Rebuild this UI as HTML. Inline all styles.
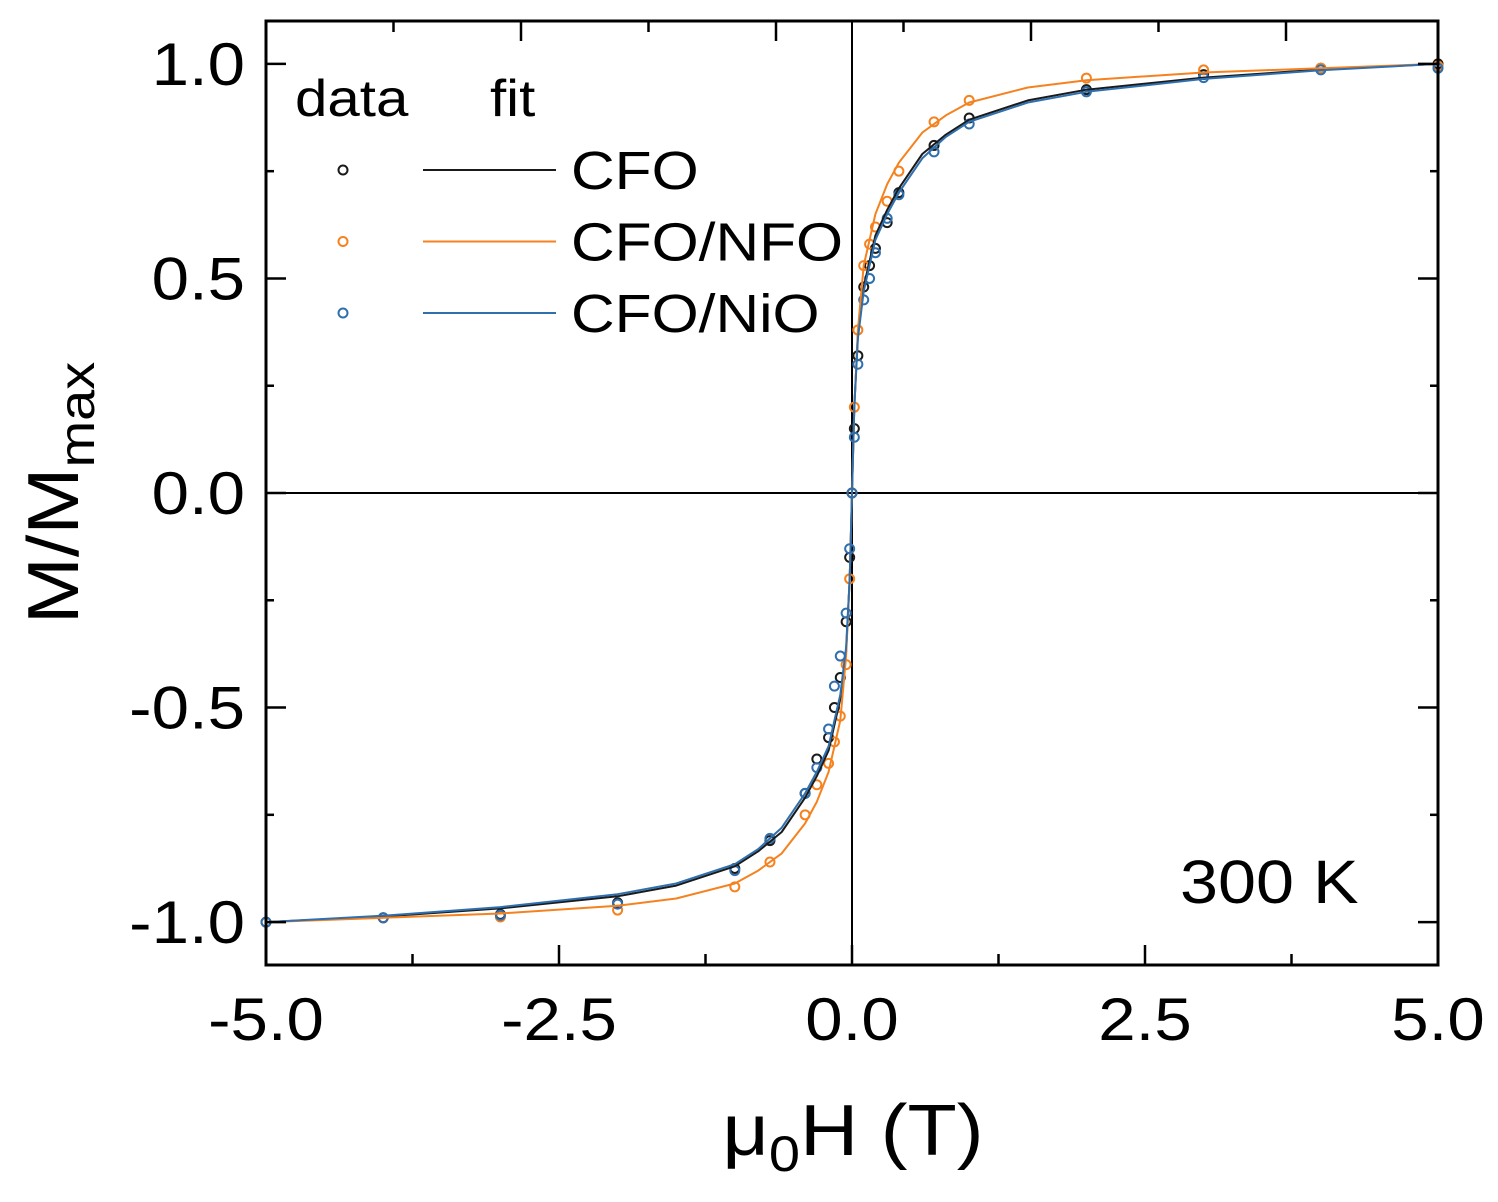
<!DOCTYPE html>
<html><head><meta charset="utf-8"><style>
html,body{margin:0;padding:0;background:#fff;}
svg{display:block;font-family:"Liberation Sans",Arial,sans-serif;}
</style></head><body>
<svg id="chart" width="1498" height="1202" viewBox="0 0 1498 1202" xmlns="http://www.w3.org/2000/svg">
<g id="plot"></g>
<g id="axes"></g>
<text class="wide" transform="translate(78,493) rotate(-90)" text-anchor="middle" font-size="72" fill="#000">M/M<tspan font-size="50" dy="16">max</tspan></text>
<text class="wide" x="853" y="1155" text-anchor="middle" font-size="72" fill="#000">μ<tspan font-size="50" dy="16">0</tspan><tspan dy="-16">H (T)</tspan></text>
<text class="wide" x="1180" y="903" font-size="61" fill="#000">300 K</text>
<g id="legend">
<text class="wide" x="295" y="116" font-size="52">data</text>
<text class="wide" x="490" y="116" font-size="52">fit</text>
</g>
</svg>
<script>
const X0=-5,X1=5,Y0=-1.1,Y1=1.1;
const PX0=266,PX1=1438,PY1=21,PY0=965;
// data fields (T)
const dataH=[-5,-4,-3,-2,-1,-0.7,-0.4,-0.3,-0.2,-0.15,-0.1,-0.05,-0.02,0,0.02,0.05,0.1,0.15,0.2,0.3,0.4,0.7,1,2,3,4,5];
const cfoData=[-1,-0.99,-0.982,-0.955,-0.875,-0.81,-0.7,-0.62,-0.57,-0.5,-0.43,-0.3,-0.15,0,0.15,0.32,0.48,0.53,0.57,0.63,0.7,0.81,0.874,0.94,0.975,0.99,1.0];
const nfoData=[-1,-0.99,-0.988,-0.972,-0.918,-0.86,-0.75,-0.68,-0.63,-0.58,-0.52,-0.4,-0.2,0,0.2,0.38,0.53,0.58,0.62,0.68,0.75,0.865,0.915,0.967,0.986,0.99,0.995];
const nioData=[-1,-0.99,-0.984,-0.958,-0.88,-0.805,-0.7,-0.64,-0.55,-0.45,-0.38,-0.28,-0.13,0,0.13,0.3,0.45,0.5,0.56,0.64,0.695,0.795,0.86,0.935,0.968,0.986,0.99];
// fit grid
const fitH=[-5,-4,-3,-2,-1.5,-1,-0.8,-0.6,-0.4,-0.3,-0.2,-0.1,-0.05,-0.02,0,0.02,0.05,0.1,0.2,0.3,0.4,0.6,0.8,1,1.5,2,3,4,5];
const cfoFit=[-1,-0.987,-0.968,-0.94,-0.915,-0.87,-0.835,-0.79,-0.71,-0.66,-0.6,-0.48,-0.37,-0.2,0,0.2,0.37,0.48,0.6,0.66,0.71,0.79,0.835,0.87,0.915,0.94,0.968,0.987,1];
const nfoFit=[-1,-0.99,-0.98,-0.962,-0.945,-0.91,-0.88,-0.84,-0.77,-0.72,-0.65,-0.53,-0.38,-0.2,0,0.2,0.38,0.53,0.65,0.72,0.77,0.84,0.88,0.91,0.945,0.962,0.98,0.99,1];
const nioFit=[-1,-0.985,-0.965,-0.935,-0.91,-0.865,-0.83,-0.78,-0.7,-0.65,-0.59,-0.47,-0.36,-0.2,0,0.2,0.36,0.47,0.59,0.65,0.7,0.78,0.83,0.865,0.91,0.935,0.965,0.985,1];
const xTicks=[-5,-2.5,0,2.5,5];
const xTickLabels=["-5.0","-2.5","0.0","2.5","5.0"];
const yTicks=[-1,-0.5,0,0.5,1];
const yTickLabels=["-1.0","-0.5","0.0","0.5","1.0"];
const NS="http://www.w3.org/2000/svg";
const sx=v=>PX0+(v-X0)/(X1-X0)*(PX1-PX0);
const sy=v=>PY0-(v-Y0)/(Y1-Y0)*(PY0-PY1);
function mk(tag,attrs,parent){const e=document.createElementNS(NS,tag);for(const k in attrs)e.setAttribute(k,attrs[k]);parent.appendChild(e);return e;}
const plot=document.getElementById('plot'),axes=document.getElementById('axes'),legend=document.getElementById('legend');
let zl=mk('line',{x1:sx(0),x2:sx(0),y1:PY1,y2:PY0,stroke:'#000','stroke-width':2},plot);

zl=mk('line',{x1:PX0,x2:PX1,y1:sy(0),y2:sy(0),stroke:'#000','stroke-width':2},plot);

const series=[
 {name:'cfo',color:'#1a1a1a',data:cfoData,fit:cfoFit},
 {name:'cfo-nfo',color:'#f5821f',data:nfoData,fit:nfoFit},
 {name:'cfo-nio',color:'#2f6fad',data:nioData,fit:nioFit}];
series.forEach(s=>{
 const g=mk('g',{},plot);
 
 
 s.data.forEach((m,i)=>{
  const c=mk('circle',{cx:sx(dataH[i]),cy:sy(m),r:4.5,fill:'none',stroke:s.color,'stroke-width':2},g);
  
  
 });
});
series.forEach(s=>{
 const d=fitH.map((h,i)=>(i?'L':'M')+sx(h).toFixed(1)+','+sy(s.fit[i]).toFixed(1)).join(' ');
 const p=mk('path',{d:d,fill:'none',stroke:s.color,'stroke-width':2,'stroke-linejoin':'round'},plot);
 
 
});
const fr=mk('rect',{x:PX0,y:PY1,width:PX1-PX0,height:PY0-PY1,fill:'none',stroke:'#000','stroke-width':3},axes);

for(let v=-5;v<=5.001;v+=1.25){
 const major=Math.abs(v/2.5-Math.round(v/2.5))<1e-6;const L=major?20:11;
 const t=mk('line',{x1:sx(v),x2:sx(v),y1:PY0,y2:PY0-L,stroke:'#000','stroke-width':2.5},axes);
 
}
for(let k=1;k<9;k++){const x=PX0+127.5*k;const L=(k%2==0)?20:11;
 const t=mk('line',{x1:x,x2:x,y1:PY1,y2:PY1+L,stroke:'#000','stroke-width':2.5},axes);
 }
xTicks.forEach((v,i)=>{const t=mk('text',{x:sx(v),y:1040,'text-anchor':'middle','font-size':60,fill:'#000','class':'wide'},axes);t.textContent=xTickLabels[i];
 });
for(let v=-1;v<=1.001;v+=0.25){
 const major=Math.abs(v*2-Math.round(v*2))<1e-6;const L=major?20:8;
 let t=mk('line',{x1:PX0,x2:PX0+L,y1:sy(v),y2:sy(v),stroke:'#000','stroke-width':2.5},axes);
 
 t=mk('line',{x1:PX1,x2:PX1-L,y1:sy(v),y2:sy(v),stroke:'#000','stroke-width':2.5},axes);
 
}
yTicks.forEach((v,i)=>{const t=mk('text',{x:245,y:sy(v)+21,'text-anchor':'end','font-size':60,fill:'#000','class':'wide'},axes);t.textContent=yTickLabels[i];
 });
const legNames=['CFO','CFO/NFO','CFO/NiO'];
series.forEach((s,i)=>{const y=170+71.5*i;
 const g=mk('g',{},legend);
 
 
 mk('circle',{cx:343,cy:y,r:4.5,fill:'none',stroke:s.color,'stroke-width':2},g);
 mk('line',{x1:423,x2:556,y1:y,y2:y,stroke:s.color,'stroke-width':2},g);
 const t=mk('text',{x:571,y:y+19,'font-size':54,fill:'#000','class':'wide'},g);t.textContent=legNames[i];
});
document.querySelectorAll('text.wide').forEach(t=>{
 const w=t.getComputedTextLength();
 t.setAttribute('textLength',(w*1.12).toFixed(1));
 t.setAttribute('lengthAdjust','spacingAndGlyphs');
});
</script>
</body></html>
